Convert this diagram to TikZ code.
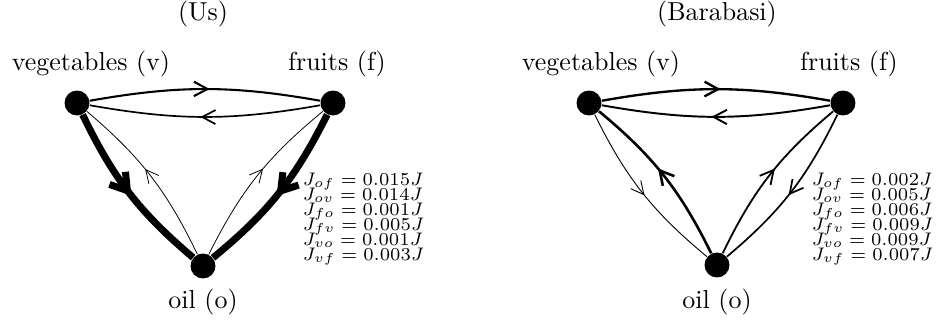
\documentclass[tikz,border=0pt]{standalone}
\usetikzlibrary{arrows.meta,decorations.markings}
\begin{document}
\begin{tikzpicture}[x=0.385pt,y=0.385pt,
  vert/.style={circle,fill=black,inner sep=0pt,minimum size=9.6pt},
  lbl/.style={inner sep=0pt},
  jl/.style={inner sep=0pt,anchor=base west,font=\fontsize{7.3}{8}\selectfont},
  midarrow/.style={postaction={decorate},decoration={markings,
     mark=at position #1 with {\arrow{Straight Barb[length=4.8pt 0.5,width=4.6pt 1.2]}}}},
  midarrow/.default=0.52]
\useasboundingbox (0,0) rectangle (941,320);
% ---------- left (Us) ----------
\node[lbl] (tu) at (203,306) {(Us)};
\node[vert] (lv) at (77,217) {};
\node[vert] (lf) at (333,217) {};
\node[vert] (lo) at (203,54) {};
\node[lbl] (lvl) at (91,256) {vegetables (v)};
\node[lbl] (lfl) at (337,256) {fruits (f)};
\node[lbl] (lol) at (203,18) {oil (o)};
\draw[midarrow,line width=0.8pt] (lv) to[bend left=10] (lf);
\draw[midarrow,line width=0.65pt] (lf) to[bend left=10] (lv);
\draw[midarrow,line width=2.7pt] (lv) to[bend right=12] (lo);
\draw[midarrow=0.55,line width=0.3pt] (lo) to[bend right=12] (lv);
\draw[midarrow,line width=2.7pt] (lf) to[bend left=12] (lo);
\draw[midarrow=0.55,line width=0.3pt] (lo) to[bend left=12] (lf);
\node[jl] (lj1) at (302,135) {$J_{of}=0.015J$};
\node[jl] (lj2) at (302,120) {$J_{ov}=0.014J$};
\node[jl] (lj3) at (302,105) {$J_{fo}=0.001J$};
\node[jl] (lj4) at (302,90) {$J_{fv}=0.005J$};
\node[jl] (lj5) at (302,75) {$J_{vo}=0.001J$};
\node[jl] (lj6) at (302,60) {$J_{vf}=0.003J$};
% ---------- right (Barabasi) ----------
\node[lbl] (tb) at (717,306) {(Barabasi)};
\node[vert] (rv) at (589,217) {};
\node[vert] (rf) at (843,217) {};
\node[vert] (ro) at (717,55) {};
\node[lbl] (rvl) at (601,256) {vegetables (v)};
\node[lbl] (rfl) at (849,256) {fruits (f)};
\node[lbl] (rol) at (717,18) {oil (o)};
\draw[midarrow,line width=0.9pt] (rv) to[bend left=10] (rf);
\draw[midarrow,line width=0.75pt] (rf) to[bend left=10] (rv);
\draw[midarrow,line width=0.35pt] (rv) to[bend right=12] (ro);
\draw[midarrow=0.55,line width=1.0pt] (ro) to[bend right=12] (rv);
\draw[midarrow,line width=0.65pt] (rf) to[bend left=12] (ro);
\draw[midarrow=0.55,line width=0.7pt] (ro) to[bend left=12] (rf);
\node[jl] (rj1) at (811,135) {$J_{of}=0.002J$};
\node[jl] (rj2) at (811,120) {$J_{ov}=0.005J$};
\node[jl] (rj3) at (811,105) {$J_{fo}=0.006J$};
\node[jl] (rj4) at (811,90) {$J_{fv}=0.009J$};
\node[jl] (rj5) at (811,75) {$J_{vo}=0.009J$};
\node[jl] (rj6) at (811,60) {$J_{vf}=0.007J$};
\end{tikzpicture}
\end{document}
